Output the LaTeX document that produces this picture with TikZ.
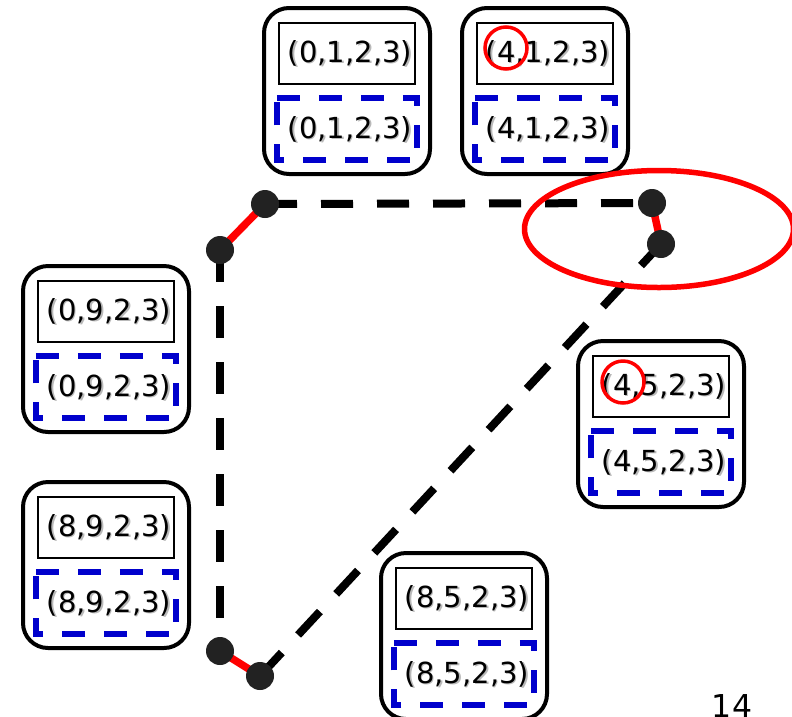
\documentclass[tikz,border=0pt]{standalone}
\usepackage{fontspec}
\setmainfont{DejaVu Sans}
\usetikzlibrary{shapes.geometric}
\definecolor{dotgray}{RGB}{34,34,34}
\definecolor{dblue}{RGB}{0,0,204}
\definecolor{shadowgray}{RGB}{185,185,185}
\tikzset{
  outerbox/.style={draw=black, line width=4pt, rounded corners=25pt, minimum width=166pt, minimum height=166pt, inner sep=0pt},
  innerbox/.style={draw=black, line width=1.8pt, minimum width=136pt, minimum height=61pt, inner sep=0pt},
  dashframe/.style={minimum width=140pt, minimum height=62pt, inner sep=0pt},
  bluedash/.style={draw=dblue, line width=6pt, dash pattern=on 23pt off 19pt},
  lbl/.style={font=\fontsize{29}{32}\selectfont, inner sep=0pt},
  shadowlbl/.style={font=\fontsize{29}{32}\selectfont, inner sep=0pt, text=shadowgray},
  blackdash/.style={draw=black, line width=8pt, dash pattern=on 32pt off 24pt},
  redlink/.style={draw=red, line width=7.5pt},
  dotnode/.style={circle, fill=dotgray, minimum size=28pt, inner sep=0pt},
  redring/.style={circle, draw=red, line width=3.5pt, minimum size=42pt, inner sep=0pt}
}
% #1 name, #2 x0, #3 y0, #4 text
\newcommand{\statebox}[4]{%
  \node[outerbox] (#1) at ({#2+83},{#3+83}) {};
  \node[innerbox] (#1in) at ({#2+83},{#3+45.5}) {};
  \node[dashframe] (#1da) at ({#2+83},{#3+121}) {};
  \draw[bluedash] (#1da.north west) -- (#1da.north east) -- (#1da.south east) -- (#1da.south west) -- cycle;
  \node[shadowlbl] at ({#2+87.5},{#3+46.5}) {#4};
  \node[lbl] (#1t1) at ({#2+86},{#3+45}) {#4};
  \node[shadowlbl] at ({#2+87.5},{#3+122.5}) {#4};
  \node[lbl] (#1t2) at ({#2+86},{#3+121}) {#4};
}
\begin{document}
\begin{tikzpicture}[x=1pt,y=-1pt]
\useasboundingbox (0,0) rectangle (792,716);
\fill[white] (0,0) rectangle (792,716);

\statebox{ba}{264}{8}{(0,1,2,3)}
\statebox{bb}{462}{8}{(4,1,2,3)}
\statebox{bc}{23}{266}{(0,9,2,3)}
\statebox{bd}{23}{482}{(8,9,2,3)}
\statebox{be}{578}{341}{(4,5,2,3)}
\statebox{bf}{381}{553}{(8,5,2,3)}

\coordinate (p1) at (265,204);
\coordinate (p2) at (220,250);
\coordinate (p3) at (652,203);
\coordinate (p4) at (661,244);
\coordinate (p5) at (220,651);
\coordinate (p6) at (260,676);

\draw[blackdash] (p1) -- (p3);
\draw[blackdash] (p2) -- (p5);
\draw[blackdash] (p6) -- (p4);
\draw[redlink] (p1) -- (p2);
\draw[redlink] (p3) -- (p4);
\draw[redlink] (p5) -- (p6);

\node[dotnode] (d1) at (p1) {};
\node[dotnode] (d2) at (p2) {};
\node[dotnode] (d3) at (p3) {};
\node[dotnode] (d4) at (p4) {};
\node[dotnode] (d5) at (p5) {};
\node[dotnode] (d6) at (p6) {};

\node[redring] (r1) at (506,48) {};
\node[redring] (r2) at (623,382) {};
\node[ellipse, draw=red, line width=5.5pt, minimum width=269pt, minimum height=117pt, inner sep=0pt] (ell) at (659,229) {};

\node[font=\fontsize{31.5}{34}\selectfont, anchor=base, inner sep=0pt] (pg) at (732,717) {14};
\end{tikzpicture}
\end{document}
